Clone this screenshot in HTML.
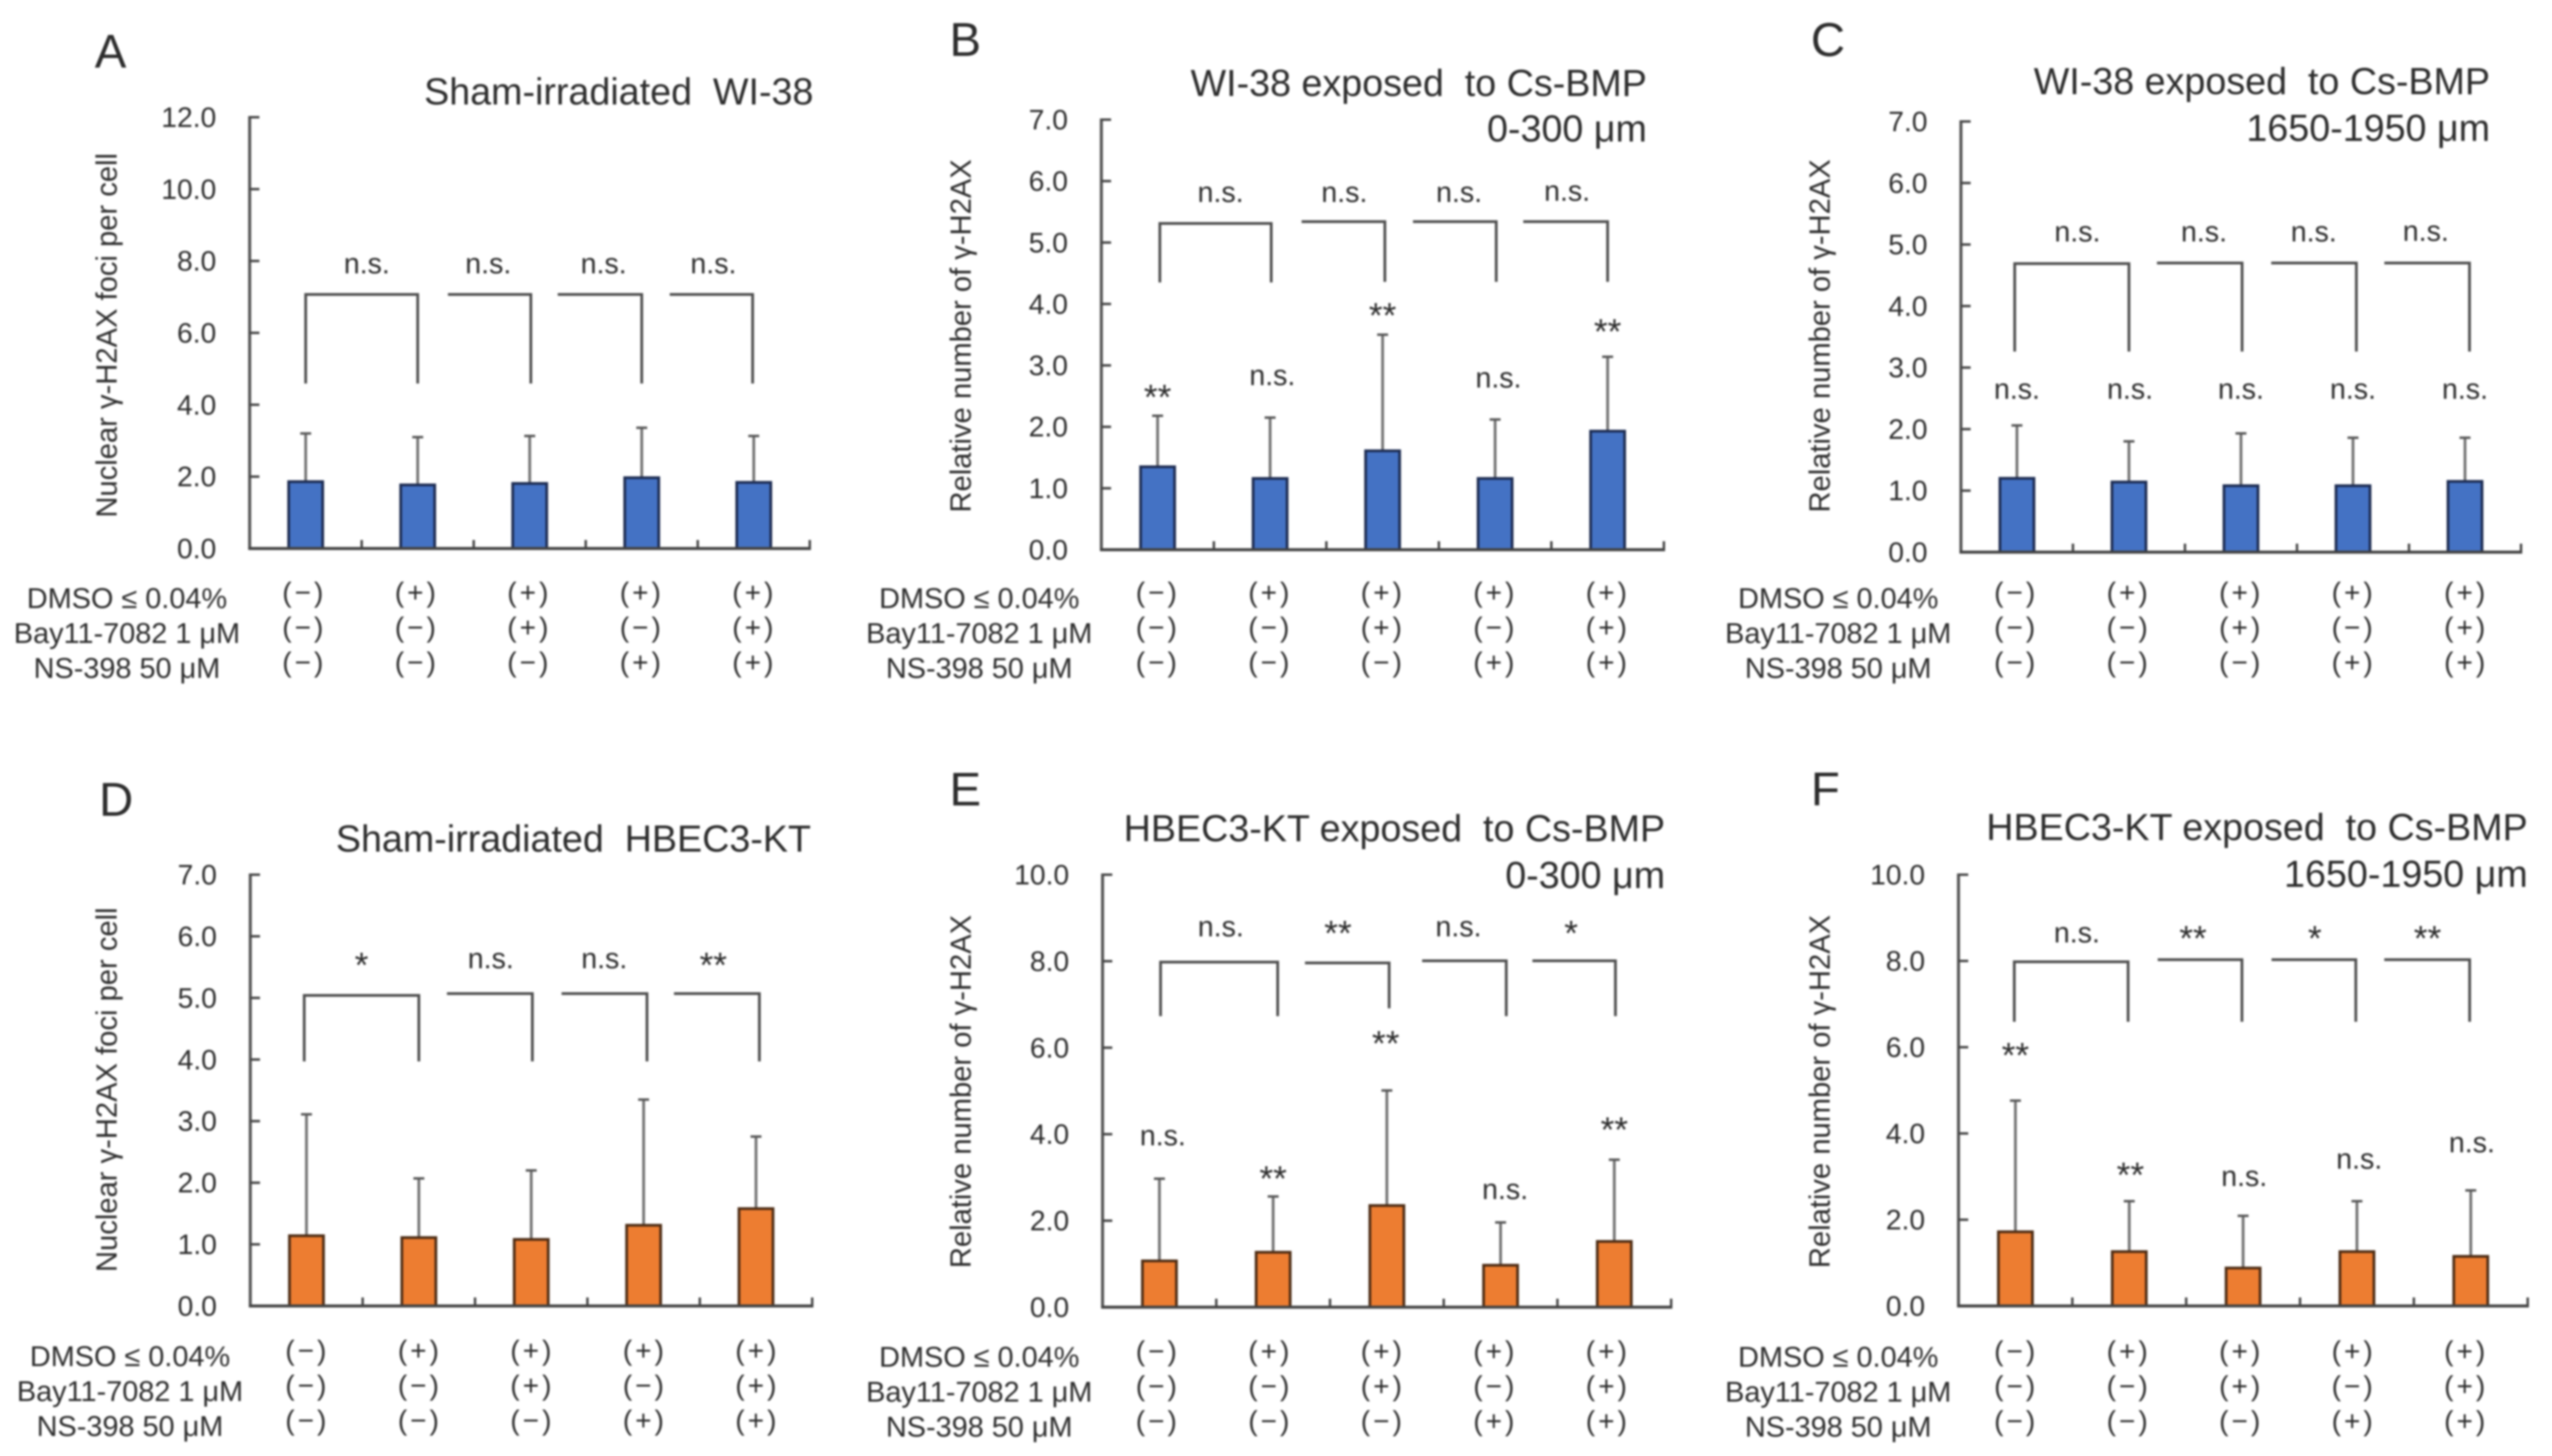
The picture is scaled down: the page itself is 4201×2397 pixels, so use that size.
<!DOCTYPE html>
<html lang="en">
<head>
<meta charset="utf-8">
<title>γ-H2AX foci bar chart panels</title>
<style>
  html,body{margin:0;padding:0;background:#fff;width:4201px;height:2397px;overflow:hidden}
  svg{display:block;filter:blur(1.5px)}
  text{font-family:"Liberation Sans",Arial,sans-serif;fill:#2c2c2c;white-space:pre}
</style>
</head>
<body>
<svg id="figure" xmlns="http://www.w3.org/2000/svg" width="4201" height="2397" viewBox="0 0 4201 2397"></svg>
<script>
// ---------- Data ----------
const conditionRows = ["DMSO ≤ 0.04%", "Bay11-7082 1 μM", "NS-398 50 μM"];
const dmsoSigns = ["(−)", "(+)", "(+)", "(+)", "(+)"];
const baySigns  = ["(−)", "(−)", "(+)", "(−)", "(+)"];
const nsSigns   = ["(−)", "(−)", "(−)", "(+)", "(+)"];

const ticksA = [0, 2, 4, 6, 8, 10, 12];
const ticksB = [0, 1, 2, 3, 4, 5, 6, 7];
const ticksC = [0, 1, 2, 3, 4, 5, 6, 7];
const ticksD = [0, 1, 2, 3, 4, 5, 6, 7];
const ticksE = [0, 2, 4, 6, 8, 10];
const ticksF = [0, 2, 4, 6, 8, 10];

const meansA = [1.86, 1.77, 1.81, 1.97, 1.84];
const uppersA = [3.2, 3.1, 3.13, 3.36, 3.13];
const meansB = [1.35, 1.16, 1.61, 1.16, 1.93];
const uppersB = [2.18, 2.15, 3.5, 2.12, 3.14];
const meansC = [1.2, 1.14, 1.08, 1.08, 1.15];
const uppersC = [2.06, 1.8, 1.93, 1.86, 1.86];
const meansD = [1.14, 1.11, 1.08, 1.31, 1.58];
const uppersD = [3.11, 2.07, 2.2, 3.35, 2.75];
const meansE = [1.07, 1.27, 2.35, 0.97, 1.52];
const uppersE = [2.97, 2.56, 5.01, 1.96, 3.41];
const meansF = [1.72, 1.26, 0.88, 1.26, 1.15];
const uppersF = [4.76, 2.43, 2.09, 2.43, 2.68];

const compareLabelsA = ["n.s.", "n.s.", "n.s.", "n.s."];
const compareLabelsB = ["n.s.", "n.s.", "n.s.", "n.s."];
const compareLabelsC = ["n.s.", "n.s.", "n.s.", "n.s."];
const compareLabelsD = ["*", "n.s.", "n.s.", "**"];
const compareLabelsE = ["n.s.", "**", "n.s.", "*"];
const compareLabelsF = ["n.s.", "**", "*", "**"];

const barLabelsA = [];
const barLabelsB = ["**", "n.s.", "**", "n.s.", "**"];
const barLabelsC = ["n.s.", "n.s.", "n.s.", "n.s.", "n.s."];
const barLabelsD = [];
const barLabelsE = ["n.s.", "**", "**", "n.s.", "**"];
const barLabelsF = ["**", "**", "n.s.", "n.s.", "n.s."];

// ---------- Panel layout (annotation anchors are in category / value units) ----------
const PANELS = [
 {id:"a", letter:"A", lx:156, ly:111, colour:"#4472C4", edge:"#1d2c52",
  x0:411, x1:1333, yBase:903, yTop:193, ticks:ticksA, means:meansA, uppers:uppersA,
  title:["Sham-irradiated  WI-38"], titleRight:1339, titleY:[172],
  yTitle:"Nuclear γ-H2AX foci per cell", yTitleX:192, yTitleY:552,
  rowY:980, rowLabelX:209, signX:501,
  brackets:[[0,1,7.07,4.59],[1.27,2.01,7.07,4.59],[2.25,3,7.07,4.59],[3.25,3.99,7.07,4.59]],
  compareLabels:compareLabelsA, compareAt:[[.546,7.89],[1.63,7.89],[2.66,7.89],[3.64,7.89]],
  barLabels:barLabelsA, barLabelAt:[]},
 {id:"b", letter:"B", lx:1563, ly:92, colour:"#4472C4", edge:"#1d2c52",
  x0:1813, x1:2739, yBase:905, yTop:197, ticks:ticksB, means:meansB, uppers:uppersB,
  title:["WI-38 exposed  to Cs-BMP","0-300 μm"], titleRight:2711, titleY:[158,233],
  yTitle:"Relative number of γ-H2AX", yTitleX:1598, yTitleY:553,
  rowY:980, rowLabelX:1612, signX:1906,
  brackets:[[.02,1.01,5.31,4.35],[1.28,2.02,5.34,4.36],[2.27,3.01,5.34,4.36],[3.25,4,5.34,4.36]],
  compareLabels:compareLabelsB, compareAt:[[.56,5.8],[1.66,5.8],[2.68,5.8],[3.64,5.82]],
  barLabels:barLabelsB, barLabelAt:[[0,2.57],[1.02,2.82],[2,3.9],[3.03,2.78],[4,3.64]]},
 {id:"c", letter:"C", lx:2981, ly:92, colour:"#4472C4", edge:"#1d2c52",
  x0:3228, x1:4150, yBase:909, yTop:200, ticks:ticksC, means:meansC, uppers:uppersC,
  title:["WI-38 exposed  to Cs-BMP","1650-1950 μm"], titleRight:4099, titleY:[155,232],
  yTitle:"Relative number of γ-H2AX", yTitleX:3012, yTitleY:553,
  rowY:980, rowLabelX:3026, signX:3319,
  brackets:[[-.02,1,4.69,3.26],[1.25,2.01,4.7,3.26],[2.27,3.03,4.7,3.26],[3.28,4.04,4.7,3.26]],
  compareLabels:compareLabelsC, compareAt:[[.54,5.19],[1.67,5.19],[2.65,5.19],[3.65,5.2]],
  barLabels:barLabelsC, barLabelAt:[[0,2.63],[1.01,2.63],[2,2.63],[3,2.63],[4,2.63]]},
 {id:"d", letter:"D", lx:163, ly:1343, colour:"#ED7D31", edge:"#4d2c14",
  x0:412, x1:1337, yBase:2150, yTop:1440, ticks:ticksD, means:meansD, uppers:uppersD,
  title:["Sham-irradiated  HBEC3-KT"], titleRight:1335, titleY:[1402],
  yTitle:"Nuclear γ-H2AX foci per cell", yTitleX:192, yTitleY:1794,
  rowY:2228, rowLabelX:214, signX:506,
  brackets:[[-.02,1,5.04,3.97],[1.25,2.01,5.07,3.97],[2.27,3.03,5.07,3.97],[3.27,4.03,5.07,3.97]],
  compareLabels:compareLabelsD, compareAt:[[.49,5.62],[1.64,5.62],[2.65,5.62],[3.62,5.62]],
  barLabels:barLabelsD, barLabelAt:[]},
 {id:"e", letter:"E", lx:1563, ly:1326, colour:"#ED7D31", edge:"#4d2c14",
  x0:1815, x1:2751, yBase:2152, yTop:1440, ticks:ticksE, means:meansE, uppers:uppersE,
  title:["HBEC3-KT exposed  to Cs-BMP","0-300 μm"], titleRight:2741, titleY:[1385,1462],
  yTitle:"Relative number of γ-H2AX", yTitleX:1598, yTitleY:1797,
  rowY:2229, rowLabelX:1612, signX:1906,
  brackets:[[.01,1.04,7.98,6.73],[1.28,2.02,7.96,6.91],[2.31,3.05,8.01,6.73],[3.28,4.01,8.01,6.73]],
  compareLabels:compareLabelsE, compareAt:[[.54,8.77],[1.57,8.77],[2.63,8.77],[3.62,8.77]],
  barLabels:barLabelsE, barLabelAt:[[.03,3.94],[1,3.1],[1.99,6.22],[3.04,2.7],[4,4.23]]},
 {id:"f", letter:"F", lx:2981, ly:1326, colour:"#ED7D31", edge:"#4d2c14",
  x0:3224, x1:4161, yBase:2150, yTop:1440, ticks:ticksF, means:meansF, uppers:uppersF,
  title:["HBEC3-KT exposed  to Cs-BMP","1650-1950 μm"], titleRight:4161, titleY:[1383,1460],
  yTitle:"Relative number of γ-H2AX", yTitleX:3012, yTitleY:1797,
  rowY:2229, rowLabelX:3026, signX:3319,
  brackets:[[-.01,.99,7.98,6.59],[1.25,1.99,8.03,6.59],[2.25,2.99,8.03,6.59],[3.24,3.99,8.03,6.59]],
  compareLabels:compareLabelsF, compareAt:[[.54,8.63],[1.56,8.65],[2.63,8.65],[3.62,8.65]],
  barLabels:barLabelsF, barLabelAt:[[0,5.94],[1.01,3.16],[2.01,2.98],[3.02,3.38],[4.01,3.76]]}
];

const NS = "http://www.w3.org/2000/svg";
const root = document.getElementById("figure");

function node(parent, tag, attrs, content){
  const el = document.createElementNS(NS, tag);
  for (const k in attrs) el.setAttribute(k, attrs[k]);
  if (content !== undefined) el.textContent = content;
  parent.appendChild(el);
  return el;
}
function xScale(p, cat){ return p.x0 + (p.x1 - p.x0) / 5 * (cat + 0.5); }
function yScale(p, v){
  const max = p.ticks[p.ticks.length - 1];
  return p.yBase - (p.yBase - p.yTop) * v / max;
}
function drawSig(g, x, y, label, name){
  const star = label.indexOf("*") >= 0;
  const t = node(g, "text", {x:x, y:star ? y + 29 : y + 14, "text-anchor":"middle", "font-size":star ? 58 : 47}, label);
  
  
}

PANELS.forEach(function(p){
  const g = node(root, "g", {});
  
  

  const letter = node(g, "text", {x:p.lx, y:p.ly, "font-size":78}, p.letter);
  
  

  p.title.forEach(function(line, i){
    const t = node(g, "text", {x:p.titleRight, y:p.titleY[i], "text-anchor":"end", "font-size":62}, line);
    
    
  });

  const yt = node(g, "text", {transform:"translate(" + p.yTitleX + " " + p.yTitleY + ") rotate(-90)", "text-anchor":"middle", "font-size":48}, p.yTitle);
  
  

  // y axis + ticks
  const yAxis = node(g, "line", {x1:p.x0, x2:p.x0, y1:yScale(p, p.ticks[p.ticks.length - 1]) - 2, y2:p.yBase + 2, stroke:"#555", "stroke-width":5});
  
  
  p.ticks.forEach(function(v){
    const y = yScale(p, v);
    const tick = node(g, "line", {x1:p.x0, x2:p.x0 + 16, y1:y, y2:y, stroke:"#444", "stroke-width":4});
    
    
    const lab = node(g, "text", {x:p.x0 - 55, y:y + 16, "text-anchor":"end", "font-size":46.5}, v.toFixed(1));
    
    
  });

  // brackets
  p.brackets.forEach(function(b, i){
    const xa = xScale(p, b[0]), xb = xScale(p, b[1]), top = yScale(p, b[2]), bot = yScale(p, b[3]);
    const d = i === 0
      ? "M" + xa + " " + bot + "V" + top + "H" + xb + "V" + bot
      : "M" + xa + " " + top + "H" + xb + "V" + bot;
    const br = node(g, "path", {d:d, fill:"none", stroke:"#4d4d4d", "stroke-width":4.5});
    
    
  });
  p.compareLabels.forEach(function(label, i){
    drawSig(g, xScale(p, p.compareAt[i][0]), yScale(p, p.compareAt[i][1]), label, 'comparison-label');
  });

  // error bars then bars
  const barWidth = 56;
  p.means.forEach(function(m, i){
    const cx = xScale(p, i);
    const err = node(g, "line", {x1:cx, x2:cx, y1:yScale(p, m), y2:yScale(p, p.uppers[i]), stroke:"#707070", "stroke-width":4.5});
    
    
    const cap = node(g, "line", {x1:cx - 9, x2:cx + 9, y1:yScale(p, p.uppers[i]), y2:yScale(p, p.uppers[i]), stroke:"#555", "stroke-width":4});
    
    
    const bar = node(g, "rect", {x:cx - barWidth / 2, y:yScale(p, m), width:barWidth, height:p.yBase - yScale(p, m), fill:p.colour, stroke:p.edge, "stroke-width":4.5});
    
    
  });
  p.barLabels.forEach(function(label, i){
    drawSig(g, xScale(p, p.barLabelAt[i][0]), yScale(p, p.barLabelAt[i][1]), label, 'bar-significance-label');
  });

  // x axis + ticks
  const xAxis = node(g, "line", {x1:p.x0 - 2, x2:p.x1 + 2, y1:p.yBase, y2:p.yBase, stroke:"#444", "stroke-width":5});
  
  
  [1, 2, 3, 4, 5].forEach(function(k){
    const x = xScale(p, k - 0.5);
    const tick = node(g, "line", {x1:x, x2:x, y1:p.yBase, y2:p.yBase - 14, stroke:"#444", "stroke-width":4});
    
    
  });

  // condition table
  const rows = [dmsoSigns, baySigns, nsSigns];
  const signPitch = 185.2;
  rows.forEach(function(signs, r){
    const y = p.rowY + r * 57.4;
    const rowLab = node(g, "text", {x:p.rowLabelX, y:y + 21, "text-anchor":"middle", "font-size":47.5}, conditionRows[r]);
    
    
    signs.forEach(function(s, i){
      const t = node(g, "text", {x:p.signX + i * signPitch, y:y + 11, "text-anchor":"middle", "font-size":46, "letter-spacing":5}, s);
      
      
    });
  });
});
</script>
</body>
</html>
